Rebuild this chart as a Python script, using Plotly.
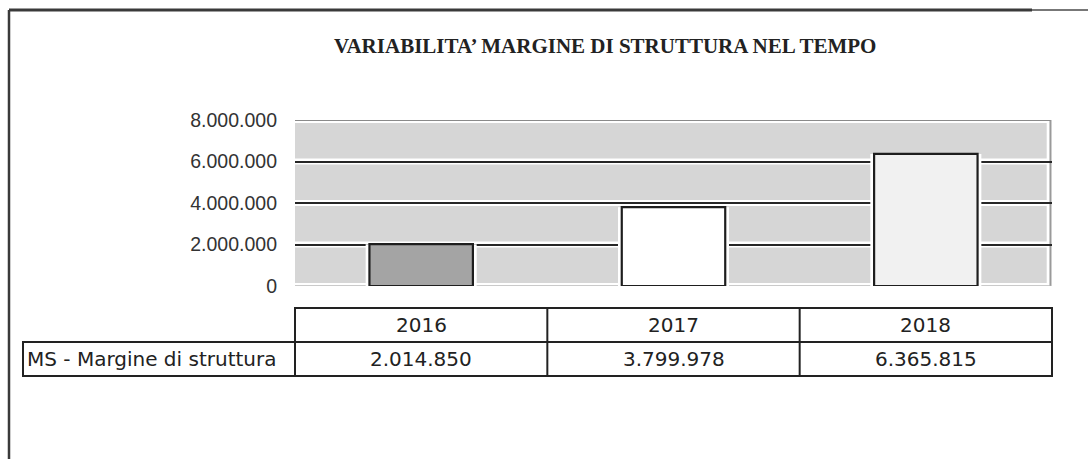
import plotly.graph_objects as go

# ---- data ----
years = ["2016", "2017", "2018"]
margine = [2014850, 3799978, 6365815]
row_label = "MS - Margine di struttura"
title_text = "VARIABILITA’ MARGINE DI STRUTTURA NEL TEMPO"
tick_vals = [0, 2000000, 4000000, 6000000, 8000000]
tick_text = ["0", "2.000.000", "4.000.000", "6.000.000", "8.000.000"]
bar_colors = ["#a4a4a4", "#ffffff", "#f1f1f1"]

W, H = 1088, 459
L, R, T, B = 295, 36, 120, 173
pw, ph = W - L - R, H - T - B


def px_x(p):
    return (p - L) / pw


def px_y(p):
    return (H - B - p) / ph


def fmt(v):
    return f"{v:,}".replace(",", ".")


fig = go.Figure()
# white halo behind the bars (gap between bars and gray bands)
fig.add_trace(go.Bar(
    x=years, y=margine, width=0.44,
    marker=dict(color="white", line=dict(width=0)),
    hoverinfo="skip", showlegend=False,
))
fig.add_trace(go.Bar(
    x=years, y=margine, width=0.41,
    marker=dict(color=bar_colors, line=dict(color="#1e1e1e", width=2.2)),
    hoverinfo="skip", showlegend=False,
))

shapes = []
# gray bands between gridlines (scanned Excel look)
ymax = tick_vals[-1]
gap = ymax * 0.018
for lo, hi in zip(tick_vals[:-1], tick_vals[1:]):
    shapes.append(dict(type="rect", xref="paper", yref="y", x0=0.0, x1=0.993,
                       y0=lo + gap, y1=hi - gap, fillcolor="#d6d6d6",
                       line=dict(width=0), layer="below"))
# right edge & top & bottom of plot area
shapes.append(dict(type="line", xref="paper", yref="y", x0=0.998, x1=0.998,
                   y0=0, y1=ymax, line=dict(color="#9a9a9a", width=2), layer="below"))
shapes.append(dict(type="line", xref="paper", yref="y", x0=0, x1=0.998,
                   y0=ymax, y1=ymax, line=dict(color="#8a8a8a", width=2), layer="below"))
shapes.append(dict(type="line", xref="paper", yref="y", x0=0, x1=0.998,
                   y0=0, y1=0, line=dict(color="#b8b8b8", width=1.5), layer="below"))

# ---- data table below chart ----
n = len(years)
hdr_top, hdr_bot, row_bot = px_y(308), px_y(342), px_y(376)
lab_left = px_x(23)
line_st = dict(color="#222222", width=2)
shapes.append(dict(type="rect", xref="paper", yref="paper", x0=0, x1=1,
                   y0=hdr_bot, y1=hdr_top, line=line_st))
shapes.append(dict(type="rect", xref="paper", yref="paper", x0=lab_left, x1=1,
                   y0=row_bot, y1=hdr_bot, line=line_st))
for i in range(n):
    shapes.append(dict(type="line", xref="paper", yref="paper", x0=i / n, x1=i / n,
                       y0=row_bot, y1=hdr_top, line=line_st))

# outer frame (left and top)
fx, fy = px_x(9), px_y(10)
shapes.append(dict(type="line", xref="paper", yref="paper", x0=fx, x1=fx,
                   y0=px_y(H + 5), y1=fy, line=dict(color="#3a3a3a", width=2.5)))
shapes.append(dict(type="line", xref="paper", yref="paper", x0=fx, x1=px_x(1032),
                   y0=fy, y1=fy, line=dict(color="#3a3a3a", width=3)))
shapes.append(dict(type="line", xref="paper", yref="paper", x0=px_x(1032), x1=px_x(W + 5),
                   y0=fy, y1=fy, line=dict(color="#777777", width=2)))

tfont = dict(family="DejaVu Sans", size=20, color="#222222")
annotations = []
for i, (yr, v) in enumerate(zip(years, margine)):
    annotations.append(dict(xref="paper", yref="paper", x=(i + 0.5) / n,
                            y=(hdr_top + hdr_bot) / 2, text=yr, showarrow=False,
                            font=tfont, xanchor="center", yanchor="middle"))
    annotations.append(dict(xref="paper", yref="paper", x=(i + 0.5) / n,
                            y=(hdr_bot + row_bot) / 2, text=fmt(v), showarrow=False,
                            font=tfont, xanchor="center", yanchor="middle"))
annotations.append(dict(xref="paper", yref="paper", x=px_x(25),
                        y=(hdr_bot + row_bot) / 2, text=row_label, showarrow=False,
                        font=tfont, xanchor="left", yanchor="middle"))
# title
annotations.append(dict(xref="paper", yref="paper", x=px_x(605), y=px_y(46),
                        text="<b>" + title_text + "</b>", showarrow=False,
                        font=dict(family="Liberation Serif, Times New Roman", size=21,
                                  color="#222222"),
                        xanchor="center", yanchor="middle"))

fig.update_layout(
    width=W, height=H,
    margin=dict(l=L, r=R, t=T, b=B),
    paper_bgcolor="white", plot_bgcolor="white",
    separators=",.",
    barmode="overlay",
    shapes=shapes, annotations=annotations,
    xaxis=dict(showticklabels=False, showgrid=False, zeroline=False,
               showline=False, ticks=""),
    yaxis=dict(range=[0, ymax], tickvals=tick_vals, ticktext=tick_text,
               showgrid=True, gridcolor="#262626", gridwidth=2,
               zeroline=False, showline=False, ticks="", ticklabelstandoff=17,
               tickfont=dict(family="Liberation Sans, Arial", size=19.5, color="#333333")),
)

fig.write_html("out.html", config={"displayModeBar": False},
               post_script="document.body.style.margin='0';")
